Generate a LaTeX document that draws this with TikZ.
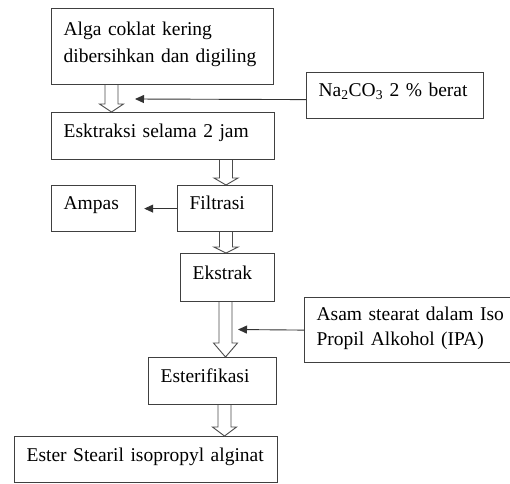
\documentclass[tikz,border=0pt]{standalone}
\usepackage{fontspec}
\setmainfont{Liberation Serif}
\usepackage{tikz}
\usetikzlibrary{positioning,calc,arrows.meta}

\tikzset{
  box/.style={draw=black!75, line width=1.2pt, rectangle, anchor=north west, align=left,
    inner xsep=12pt, inner ysep=0pt, font=\fontsize{19.5}{27}\selectfont},
  hollow/.style={draw=black!70, line width=0.9pt, fill=white, line join=miter},
  feed/.style={draw=black!80, line width=0.9pt, ->, >={Triangle[length=9pt,width=8pt]}}
}

\newcommand{\hollowarrow}[4]{%
  \draw[hollow] let \p1=(#1.south), \p2=(#2.north) in
    (#3pt-6.5pt,\y1) -- (#3pt-6.5pt,\y2+#4pt) -- (#3pt-12pt,\y2+#4pt) -- (#3pt,\y2)
    -- (#3pt+12pt,\y2+#4pt) -- (#3pt+6.5pt,\y2+#4pt) -- (#3pt+6.5pt,\y1);
}

\begin{document}
\begin{tikzpicture}[x=1pt,y=1pt]
\useasboundingbox (0,0) rectangle (510,-483);

\node[box, text width=198pt, text height=27pt, text depth=49pt] (alga) at (51,-8) {Alga coklat kering\\dibersihkan dan digiling};
\node[box, text width=153pt, text height=24pt, text depth=22pt] (na) at (306,-72) {Na\textsubscript{2}CO\textsubscript{3} 2 \% berat};
\node[box, text width=199pt, text height=25pt, text depth=22pt] (ekstraksi) at (51,-112) {Esktraksi selama 2 jam};
\node[box, text width=60pt, text height=24pt, text depth=22pt] (ampas) at (51,-185) {Ampas};
\node[box, text width=71pt, text height=24pt, text depth=22pt] (filtrasi) at (177,-185) {Filtrasi};
\node[box, text width=70pt, text height=26pt, text depth=22pt] (ekstrak) at (180,-253) {Ekstrak};
\node[box, text width=200pt, text height=23pt, text depth=42pt, font=\fontsize{19.5}{25}\selectfont] (asam) at (304,-297) {Asam stearat dalam Iso\\Propil Alkohol (IPA)};
\node[box, text width=104pt, text height=25pt, text depth=22pt] (esterifikasi) at (148,-357) {Esterifikasi};
\node[box, text width=239pt, text height=25pt, text depth=21pt] (ester) at (14,-436) {Ester Stearil isopropyl alginat};

\hollowarrow{alga}{ekstraksi}{111.5}{8}
\hollowarrow{ekstraksi}{filtrasi}{226}{7}
\hollowarrow{filtrasi}{ekstrak}{226}{6}
\hollowarrow{ekstrak}{esterifikasi}{225.5}{14}
\hollowarrow{esterifikasi}{ester}{224.5}{9}

\coordinate (naTip) at (135,-99);
\coordinate (asamTip) at (238,-329.5);
\draw[feed] ([yshift=-4pt]na.west) -- (naTip);
\draw[feed, shorten >=8pt] (filtrasi.west) -- (ampas.east);
\draw[feed] (asam.west) -- (asamTip);

\end{tikzpicture}
\end{document}
